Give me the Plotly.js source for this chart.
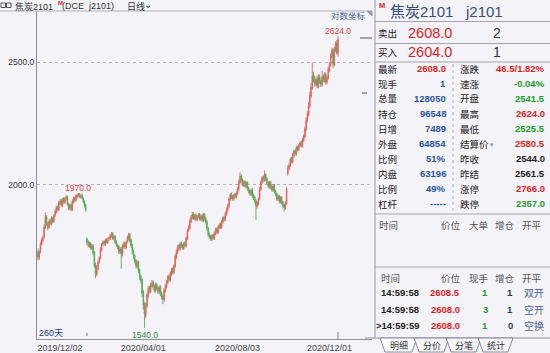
<!DOCTYPE html>
<html>
<head>
<meta charset="utf-8">
<script src="https://cdn.plot.ly/plotly-3.0.1.min.js"></script>
<style>
html,body{margin:0;padding:0;background:#f4f3f8;}
#chart{width:550px;height:353px;}
</style>
</head>
<body>
<div id="chart"></div>
<script>
// ---------- DATA ----------
const open = [
1770,1750,1770,1795,1806,1818,1850,1885,1860,1850,
1872,1862,1882,1870,1892,1903,1920,1910,1932,1942,
1925,1948,1936,1948,1957,1930,1916,1927,1910,1938,
1952,1943,1956,1960,1967,1955,1962,1950,1940,1928,
1812,1802,1788,1797,1780,1790,1768,1728,1698,1716,
1737,1750,1775,1795,1802,1793,1808,1800,1812,1813,
1820,1830,1812,1820,1802,1790,1787,1768,1780,1760,
1786,1798,1783,1802,1812,1827,1808,1792,1772,1757,
1742,1722,1738,1712,1692,1682,1645,1610,1575,1602,
1632,1657,1645,1663,1675,1662,1648,1667,1657,1643,
1660,1642,1632,1620,1648,1660,1673,1692,1680,1698,
1715,1703,1722,1752,1768,1788,1778,1798,1790,1780,
1798,1788,1812,1840,1848,1870,1883,1898,1880,1892,
1876,1887,1895,1878,1890,1872,1895,1882,1870,1847,
1828,1820,1810,1825,1813,1828,1845,1832,1848,1862,
1850,1868,1885,1876,1895,1910,1922,1945,1965,1958,
1948,1965,1956,1968,1983,2008,2032,2018,1998,2012,
1992,2008,1988,1978,1965,1982,1962,1955,1942,1922,
1932,1950,1982,2008,2028,2015,2038,2022,2008,1992,
2010,1992,1980,1998,1978,1968,1948,1960,1938,1955,
1938,1928,1915,1932,2040,2058,2070,2098,2085,2108,
2128,2115,2142,2132,2148,2162,2145,2168,2182,2212,
2248,2272,2308,2350,2385,2445,2428,2402,2425,2390,
2435,2418,2398,2438,2418,2448,2410,2428,2462,2488,
2525,2560,2488,2555,2588,2541.5];
const high = [
1781,1775,1802,1815,1823,1860,1900,1892,1868,1878,
1880,1888,1886,1896,1912,1925,1926,1942,1948,1950,
1952,1955,1956,1962,1960,1936,1932,1933,1946,1956,
1958,1964,1968,1970,1970,1966,1968,1955,1944,1932,
1816,1808,1802,1801,1795,1794,1772,1735,1726,1742,
1755,1784,1798,1806,1808,1812,1814,1816,1821,1828,
1834,1834,1825,1824,1808,1796,1792,1785,1785,1794,
1801,1803,1806,1822,1832,1830,1812,1796,1776,1762,
1746,1742,1741,1716,1697,1686,1650,1615,1612,1642,
1662,1663,1672,1680,1680,1668,1671,1672,1661,1664,
1665,1646,1637,1656,1668,1681,1696,1697,1706,1718,
1720,1731,1762,1777,1792,1794,1801,1803,1794,1801,
1804,1820,1845,1857,1878,1892,1903,1902,1896,1897,
1892,1898,1899,1894,1895,1900,1898,1886,1874,1852,
1833,1825,1828,1829,1836,1848,1850,1856,1864,1866,
1876,1888,1890,1904,1918,1932,1955,1970,1972,1963,
1968,1970,1976,1992,2018,2045,2038,2023,2016,2016,
2012,2012,1993,1982,1986,1987,1967,1960,1947,1940,
1954,1992,2016,2032,2033,2052,2042,2027,2013,2014,
2014,1997,2002,2003,1982,1972,1964,1964,1958,1959,
1942,1932,1940,1992,2072,2080,2102,2104,2118,2132,
2134,2147,2148,2157,2165,2168,2178,2192,2224,2262,
2288,2325,2370,2410,2500,2458,2440,2432,2440,2448,
2445,2428,2462,2446,2455,2455,2440,2478,2500,2542,
2568,2565,2572,2598,2605,2624];
const low = [
1742,1744,1764,1790,1800,1812,1845,1855,1840,1845,
1858,1856,1866,1865,1886,1898,1906,1905,1926,1922,
1920,1932,1930,1943,1925,1910,1908,1905,1906,1932,
1938,1938,1950,1955,1952,1950,1946,1932,1918,1902,
1792,1784,1782,1776,1774,1758,1718,1686,1692,1710,
1731,1745,1770,1789,1788,1788,1796,1795,1806,1808,
1815,1808,1806,1794,1786,1778,1762,1762,1716,1755,
1780,1779,1777,1797,1806,1798,1782,1762,1746,1732,
1716,1716,1702,1680,1670,1630,1592,1540,1568,1596,
1626,1640,1640,1657,1652,1643,1642,1648,1638,1637,
1632,1622,1608,1615,1642,1655,1668,1675,1675,1692,
1698,1698,1717,1746,1762,1773,1772,1782,1775,1775,
1784,1783,1807,1834,1843,1864,1877,1875,1874,1871,
1870,1881,1873,1872,1868,1867,1873,1860,1838,1818,
1810,1805,1804,1808,1808,1823,1828,1827,1843,1845,
1845,1862,1870,1871,1889,1904,1917,1940,1948,1942,
1942,1950,1951,1962,1978,2002,2008,1995,1992,1988,
1987,1978,1968,1960,1960,1952,1945,1932,1875,1915,
1926,1945,1977,2002,2010,2010,2013,1998,1987,1986,
1982,1975,1974,1968,1958,1942,1942,1932,1932,1928,
1915,1905,1910,1928,2032,2050,2064,2080,2078,2100,
2110,2108,2126,2126,2142,2140,2140,2162,2176,2205,
2240,2265,2300,2342,2378,2410,2392,2392,2385,2384,
2405,2390,2392,2410,2410,2400,2402,2422,2455,2480,
2518,2475,2482,2548,2535,2525.5];
const close = [
1752,1768,1795,1808,1815,1852,1888,1862,1848,1870,
1865,1880,1872,1890,1905,1918,1912,1935,1940,1928,
1945,1938,1950,1955,1932,1918,1925,1912,1940,1950,
1945,1958,1962,1965,1958,1960,1952,1938,1925,1910,
1800,1790,1795,1782,1788,1765,1725,1700,1718,1735,
1748,1778,1792,1800,1795,1806,1802,1810,1815,1822,
1828,1815,1818,1800,1792,1785,1770,1778,1762,1788,
1795,1785,1800,1815,1825,1805,1790,1770,1755,1740,
1725,1735,1710,1690,1680,1640,1605,1580,1600,1635,
1655,1648,1665,1672,1660,1650,1665,1655,1645,1658,
1640,1630,1622,1650,1662,1675,1690,1682,1700,1712,
1705,1725,1755,1770,1785,1780,1795,1788,1782,1795,
1790,1815,1838,1850,1872,1885,1895,1882,1890,1878,
1885,1892,1880,1888,1875,1893,1880,1868,1845,1825,
1818,1812,1822,1815,1830,1842,1835,1850,1858,1852,
1870,1882,1878,1898,1912,1925,1948,1962,1955,1950,
1962,1958,1970,1985,2010,2030,2015,2002,2010,1995,
2005,1985,1975,1968,1980,1960,1952,1940,1925,1935,
1948,1985,2010,2025,2018,2035,2020,2005,1995,2008,
1990,1982,1995,1975,1965,1950,1958,1940,1952,1935,
1925,1918,1935,1985,2060,2072,2095,2088,2110,2125,
2118,2140,2135,2150,2158,2148,2170,2185,2215,2250,
2275,2310,2355,2390,2440,2425,2405,2420,2395,2430,
2415,2400,2435,2420,2445,2412,2430,2468,2490,2530,
2555,2490,2560,2585,2544,2608];

const tickIdx    = [18, 86, 163, 238];
const tickLabels = ['2019/12/02','2020/04/01','2020/08/03','2020/12/01'];
const yTicks     = [2000, 2500];
const yTickText  = ['2000.0','2500.0'];
const preHolidayDays = 40;
const dayCountLabel = '260天';

const leftLabels  = ['最新','现手','总量','持仓','日增','外盘','比例','内盘','比例','杠杆'];
const leftValues  = ['2608.0','1','128050','96548','7489','64854','51%','63196','49%','-----'];
const rightLabels = ['涨跌','速涨','开盘','最高','最低','结算价','昨收','昨结','涨停','跌停'];
const rightValues = ['46.5/1.82%','-0.04%','2541.5','2624.0','2525.5','2580.5','2544.0','2561.5','2766.0','2357.0'];
const askPrice = '2608.0', askVol = '2', bidPrice = '2604.0', bidVol = '1';
const bigOrderHead = ['时间','价位','大单','增仓','开平'];
const tradeHead  = ['时间','价位','现手','增仓','开平'];
const tradeTime  = ['14:59:58','14:59:58','>14:59:59'];
const tradePrice = ['2608.5','2608.0','2608.0'];
const tradeVol   = ['1','3','1'];
const tradeOI    = ['1','1','0'];
const tradeType  = ['双开','空开','空换'];
const tabs = ['明细','分价','分笔','统计'];

// ---------- STYLE ----------
const RED='#d81f1f', GREEN='#1f9a2c', BLUE='#2b579a', DARK='#222', SLATE='#3c5484';
const leftValColors  = [RED,BLUE,BLUE,BLUE,BLUE,BLUE,BLUE,BLUE,BLUE,BLUE];
const rightValColors = [RED,GREEN,GREEN,RED,GREEN,RED,DARK,DARK,RED,GREEN];
const FONT = 'Liberation Sans, Arial, Noto Sans CJK SC';
const CJK = 'Noto Sans CJK SC, Liberation Sans';

const L=37, R=372, T=11, B=339, W=R-L, H=B-T;
const px = X => (X-L)/W, py = Y => (B-Y)/H;

const x = close.map((_, i) => i);

const anns = [];
function txt(text, X, Y, size, color, anchor, extra){
  anns.push(Object.assign({text:text, xref:'paper', yref:'paper', x:px(X), y:py(Y),
    xanchor:anchor||'left', yanchor:'middle', showarrow:false, borderpad:0,
    font:{family:FONT, size:size, color:color}}, extra||{}));
}
const shapes = [];
function ln(x0,y0,x1,y1,color,dash,w){
  shapes.push({type:'line', xref:'paper', yref:'paper', x0:px(x0), y0:py(y0), x1:px(x1), y1:py(y1),
    line:{color:color||'#a3a3ae', width:w||1, dash:dash||'solid'}});
}
function path(pts, fill, color){
  let d = pts.map((p,i)=>(i?'L':'M')+px(p[0])+','+py(p[1])).join(' ')+' Z';
  shapes.push({type:'path', xref:'paper', yref:'paper', path:d, fillcolor:fill, line:{color:color||'#8a8a96', width:1}});
}

// --- chart header ---
ln(0,11,368,11,'#b0b0bb');
shapes.push({type:'rect',xref:'paper',yref:'paper',x0:px(1),x1:px(5.5),y0:py(3),y1:py(7.5),line:{color:'#555',width:1}});
shapes.push({type:'rect',xref:'paper',yref:'paper',x0:px(6.5),x1:px(11),y0:py(3),y1:py(7.5),line:{color:'#555',width:1}});
txt('焦炭2101', 14, 6, 9, '#333');
txt('<b>M</b>', 56.5, 3.5, 6, RED);
txt('(DCE  j2101)', 61, 6, 9, '#333');
txt('日线', 126, 6, 9, '#333');
txt('⌄', 143, 4, 10, '#333');
txt('对数坐标', 367, 16.5, 8.5, '#4a6496', 'right');
path([[367,11],[372,11],[372,16]], '#9a9aa6', '#9a9aa6');
ln(360,38,372,38,'#555');
ln(362,93,367,93,'#555');
ln(87,333,87,338,'#777','dot');
ln(338,332,338,339,'#888');
txt(dayCountLabel, 38, 333, 9, '#23407a');

// --- price markers from data ---
function argmax(a, s, e){let k=s; for(let i=s;i<e;i++) if(a[i]>a[k]) k=i; return k;}
function argmin(a, s, e){let k=s; for(let i=s;i<e;i++) if(a[i]<a[k]) k=i; return k;}
const iPeak1 = argmax(high, 0, preHolidayDays);
const iTop = argmax(high, 0, high.length);
const iBot = argmin(low, 0, low.length);
function mark(i, v, color, shift){
  anns.push({text:v.toFixed(1), x:i, y:Math.log10(v), xref:'x', yref:'y', showarrow:false,
    yshift:shift, xanchor:'center', yanchor:'middle', font:{family:FONT, size:8.5, color:color}});
}
mark(iPeak1, high[iPeak1], '#d03a3a', 5);
mark(iTop, high[iTop], '#d03a3a', 5);
mark(iBot, low[iBot], '#2d8a3a', -7);

// --- right panel ---
ln(375,0,375,338,'#9a9aa6');
txt('<b>M</b>', 378, 5.5, 7.5, RED);
txt('焦炭2101', 389, 11.5, 15, '#34507e');
txt('j2101', 464, 11.5, 15, '#34507e');
ln(375,21.5,550,21.5);
txt('卖出', 377, 32.5, 9.5, DARK, 'left', {font:{family:CJK,size:9.5,color:DARK}});
txt(askPrice, 407, 32.5, 14.5, RED);
txt(askVol, 497, 32.5, 14, '#333', 'center');
ln(375,43.5,550,43.5);
txt('买入', 377, 52.5, 9.5, DARK, 'left', {font:{family:CJK,size:9.5,color:DARK}});
txt(bidPrice, 407, 52.5, 14.5, RED);
txt(bidVol, 497, 52.5, 14, '#333', 'center');
ln(375,62,550,62);
for(let i=0;i<leftLabels.length;i++){
  const Y = 68.5 + 15*i;
  txt(leftLabels[i], 377, Y, 9.5, DARK, 'left', {font:{family:CJK,size:9.5,color:DARK}});
  txt('<b>'+leftValues[i]+'</b>', 447, Y, 9.5, leftValColors[i], 'right');
  txt(rightLabels[i], 459, Y, 9.5, DARK, 'left', {font:{family:CJK,size:9.5,color:DARK}});
  txt('<b>'+rightValues[i]+'</b>', 546, Y, 9.5, rightValColors[i], 'right');
}
txt('▾', 489, 144, 7, '#999');
ln(453,64,453,211,'#b0b0ba','dot');
ln(375,214,550,214);
const head1X = [[378,'left'],[451,'center'],[479,'center'],[505,'center'],[532,'center']];
bigOrderHead.forEach((h,i)=>txt(h, head1X[i][0], 224.5, 9.5, '#555', head1X[i][1], {font:{family:CJK,size:9.5,color:'#555'}}));
ln(375,267,550,267);
tradeHead.forEach((h,i)=>txt(h, head1X[i][0]+(i===0?2:0), 277.5, 9.5, '#555', head1X[i][1], {font:{family:CJK,size:9.5,color:'#555'}}));
for(let i=0;i<tradeTime.length;i++){
  const Y = 292.5 + 16.5*i;
  txt('<b>'+tradeTime[i]+'</b>', tradeTime[i][0]==='>'?375:380, Y, 9.5, DARK, 'left');
  txt('<b>'+tradePrice[i]+'</b>', 461, Y, 9.5, RED, 'right');
  txt('<b>'+tradeVol[i]+'</b>', 489, Y, 9.5, GREEN, 'right');
  txt('<b>'+tradeOI[i]+'</b>', 514, Y, 9.5, '#253a60', 'right');
  txt(tradeType[i], 523, Y, 10, '#4a6496', 'left', {font:{family:CJK,size:10,color:'#4a6496'}});
}
// tabs
ln(365,338,550,338,'#8a8a96');
const tabX = [[380,417],[414,449],[446,481],[478,513]];
tabs.forEach((tb,i)=>{
  const a=tabX[i][0], b=tabX[i][1];
  path([[a,338],[a+5,352],[b-5,352],[b,338]], i===0?'#ffffff':'#f4f3f8', '#8a8a96');
});
tabs.forEach((tb,i)=>{
  txt(tb, (tabX[i][0]+tabX[i][1])/2, 345.5, 9, '#333', 'center', {font:{family:CJK,size:9,color:'#333'}});
});

const trace = {
  type:'candlestick', x:x, open:open, high:high, low:low, close:close,
  increasing:{line:{color:'#e0645c', width:0.9}, fillcolor:'#e0645c'},
  decreasing:{line:{color:'#5aa85a', width:0.9}, fillcolor:'#5aa85a'},
  whiskerwidth:0, hoverinfo:'skip', showlegend:false
};

const layout = {
  width:550, height:353,
  margin:{l:L, r:550-R, t:T, b:353-B, pad:0},
  paper_bgcolor:'#f4f3f8', plot_bgcolor:'#f4f3f8',
  showlegend:false,
  font:{family:FONT},
  xaxis:{range:[(L-38)/1.2245, (R-38)/1.2245], tickmode:'array', tickvals:tickIdx, ticktext:tickLabels,
    showgrid:false, zeroline:false, showline:true, linecolor:'#8c8c96', linewidth:1, ticks:'',
    tickfont:{family:FONT, size:9, color:'#444'}, rangeslider:{visible:false}, fixedrange:true},
  yaxis:{type:'log', range:[Math.log10(1509), Math.log10(2746)], tickmode:'array', tickvals:yTicks, ticktext:yTickText,
    showgrid:true, gridcolor:'#b4b4c2', griddash:'dot', gridwidth:1, showline:true, linecolor:'#8c8c96', linewidth:1,
    ticks:'', zeroline:false, tickfont:{family:FONT, size:8.5, color:'#333'}, fixedrange:true},
  shapes:shapes, annotations:anns
};

Plotly.newPlot('chart', [trace], layout, {staticPlot:true, displayModeBar:false});
</script>
</body>
</html>
